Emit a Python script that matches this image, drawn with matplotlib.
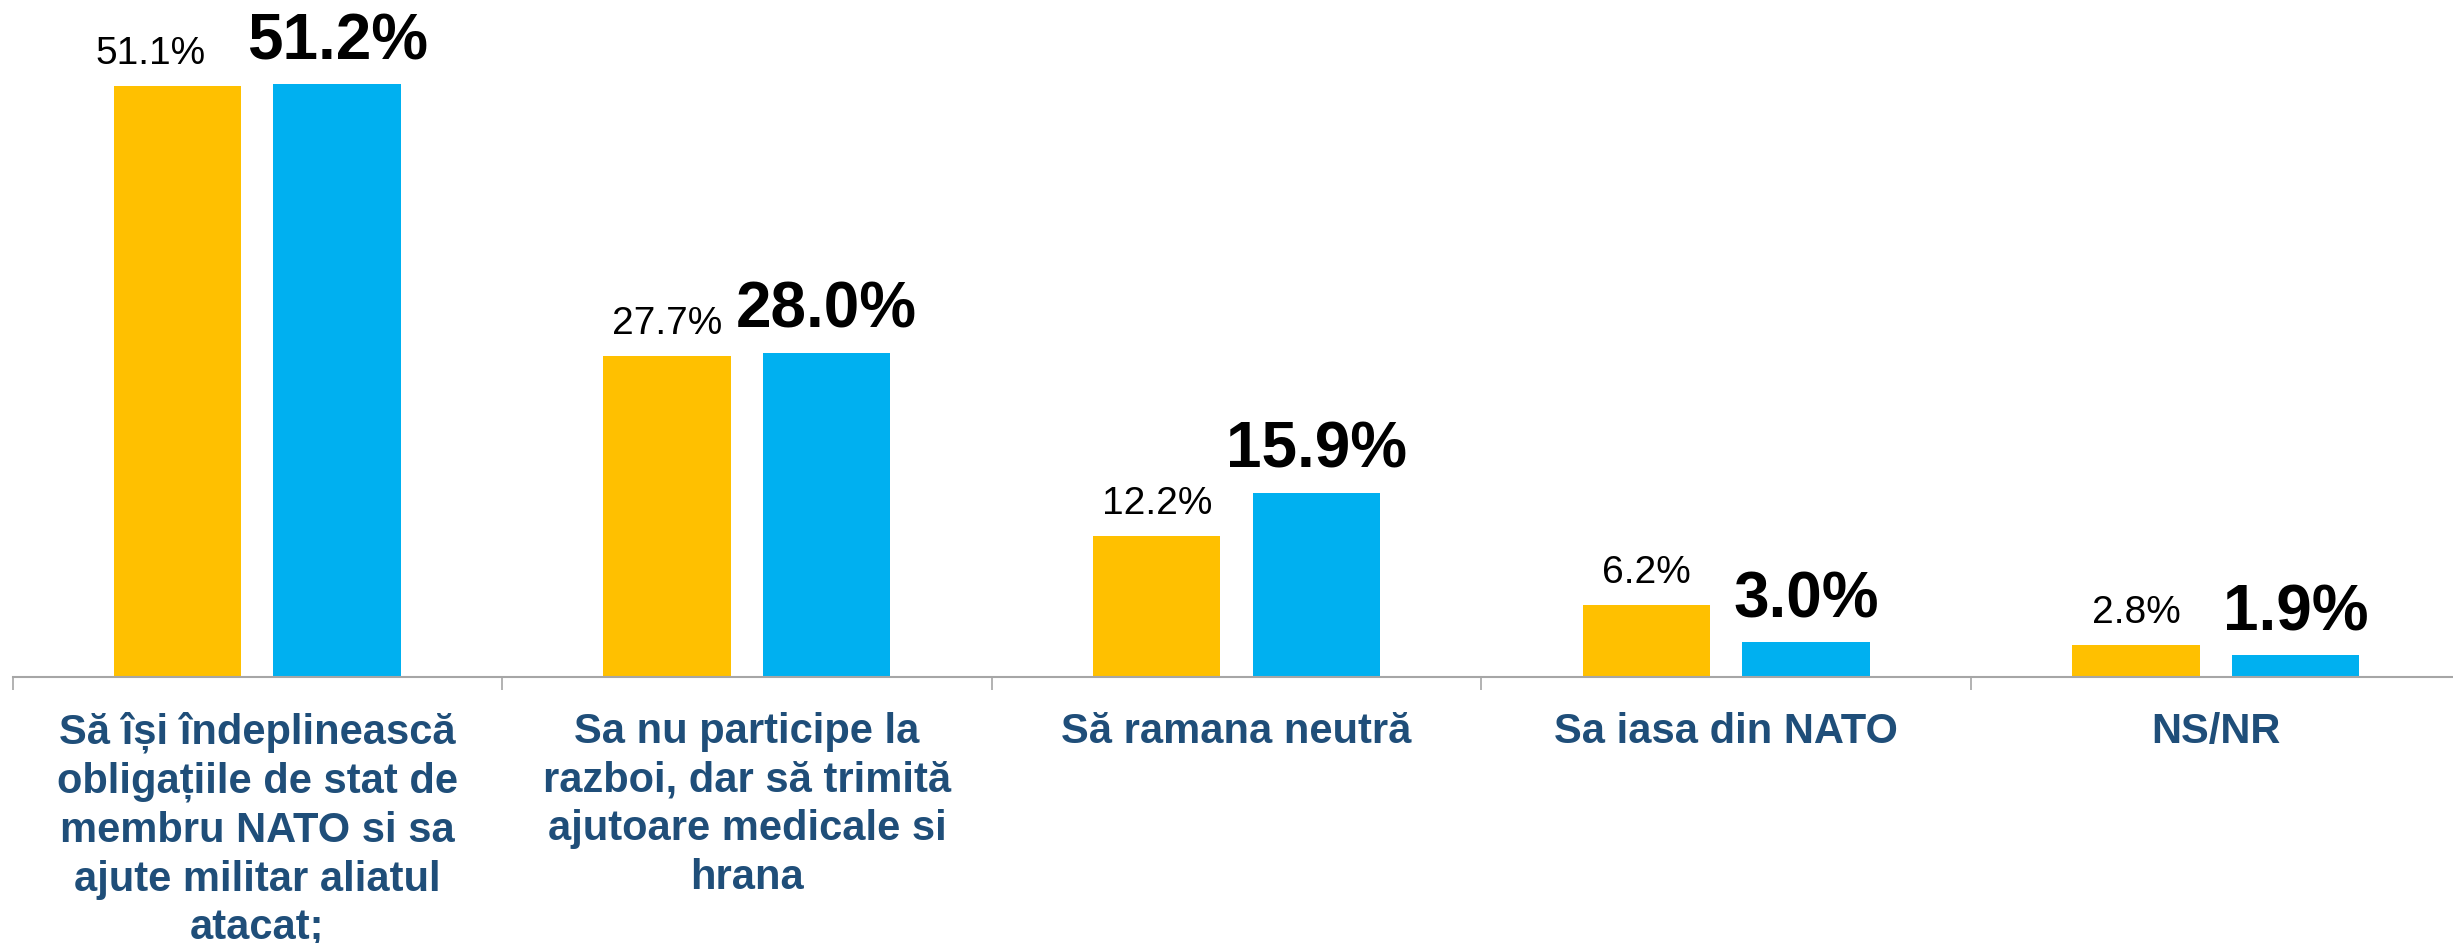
import numpy as np
import matplotlib.pyplot as plt
from matplotlib.ticker import FixedLocator

plt.rcParams['font.family'] = ['Liberation Sans', 'DejaVu Sans']

# Categories and the two survey waves
categories = [
    'Să își îndeplinească\nobligațiile de stat de\nmembru NATO si sa\najute militar aliatul\natacat;',
    'Sa nu participe la\nrazboi, dar să trimită\najutoare medicale si\nhrana',
    'Să ramana neutră',
    'Sa iasa din NATO',
    'NS/NR',
]
wave_old = [51.1, 27.7, 12.2, 6.2, 2.8]
wave_new = [51.2, 28.0, 15.9, 3.0, 1.9]

# small horizontal nudge of the first value label (pixels), that group is crowded
nudge_old = [-27, 0, 0, 0, 0]

fig = plt.figure(figsize=(24.53, 9.43), dpi=100)
ax = fig.add_axes([12.5 / 2453, 266 / 943, 2448 / 2453, 677 / 943])

x = np.arange(len(categories))
off = 0.163
w = 0.26
ax.bar(x - off, wave_old, w, color='#FFC000')
ax.bar(x + off, wave_new, w, color='#00B0F0')

for i in range(len(x)):
    ax.annotate(f'{wave_old[i]:.1f}%', (x[i] - off, wave_old[i]),
                xytext=(nudge_old[i], 22), textcoords='offset pixels',
                ha='center', va='baseline', fontsize=28, color='black')
    ax.annotate(f'{wave_new[i]:.1f}%', (x[i] + off, wave_new[i]),
                xytext=(0, 25), textcoords='offset pixels',
                ha='center', va='baseline', fontsize=46, fontweight='bold',
                color='black')

ax.set_xlim(-0.5, len(categories) - 0.5)
ax.set_ylim(0, 58.5)

ax.set_xticks(x)
ax.set_xticklabels(categories, fontsize=30, fontweight='bold', color='#1F4E79',
                   linespacing=1.28)
ax.tick_params(axis='x', which='major', length=0, pad=25)
ax.xaxis.set_minor_locator(FixedLocator(np.arange(len(categories) + 1) - 0.5))
ax.tick_params(axis='x', which='minor', length=9, width=1.2, color='#A6A6A6')

ax.set_yticks([])
for s in ['top', 'right', 'left']:
    ax.spines[s].set_visible(False)
ax.spines['bottom'].set_color('#A6A6A6')
ax.spines['bottom'].set_linewidth(1.5)

fig.savefig('out.png', dpi=100)
